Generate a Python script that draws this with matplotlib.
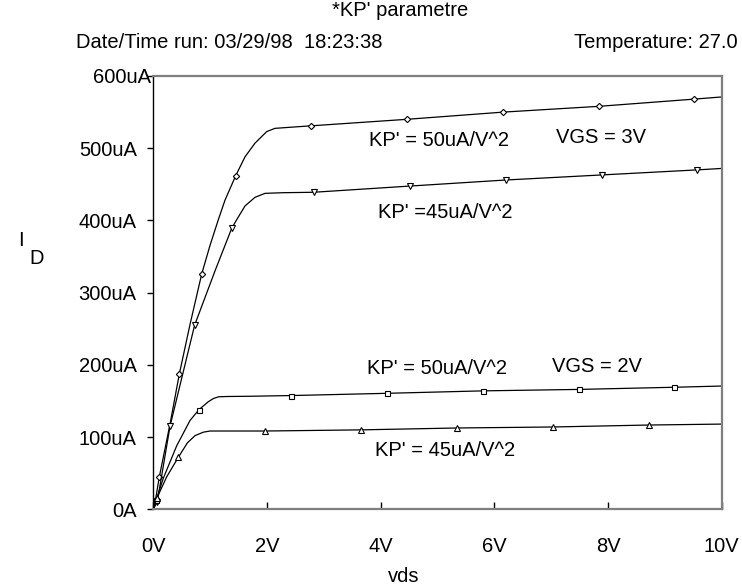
import numpy as np
import matplotlib
matplotlib.use("Agg")
import matplotlib.pyplot as plt
from matplotlib.transforms import ScaledTranslation

plt.rcParams['font.family'] = ['Liberation Sans', 'DejaVu Sans']

# Drain current (uA) versus drain-source voltage (V)
# VGS = 3V, KP' = 50uA/V^2
vds_a = [0, 0.03, 0.106, 0.294, 0.457, 0.646, 0.852, 1.0, 1.144, 1.261, 1.45,
         1.613, 1.789, 1.995, 2.14, 2.405, 2.774, 4.458, 6.157, 7.84, 9.518, 10]
id_a = [0, 9, 45, 118, 187, 256, 326, 366, 401, 428, 462,
        488, 507, 523, 527.5, 529, 531, 540, 550, 558, 568, 571]
mk_a = [0.106, 0.457, 0.852, 1.45, 2.774, 4.458, 6.157, 7.84, 9.518]

# VGS = 3V, KP' = 45uA/V^2
vds_b = [0, 0.07, 0.294, 0.727, 1.09, 1.379, 1.467, 1.613, 1.789, 1.965,
         2.287, 2.82, 4.516, 6.205, 7.89, 9.57, 10]
id_b = [0, 10.5, 115, 255, 331, 389, 401, 420, 432, 437.5,
        438.4, 439, 447.6, 456, 463, 470, 472]
mk_b = [0.07, 0.294, 0.727, 1.379, 2.82, 4.516, 6.205, 7.89, 9.57]

# VGS = 2V, KP' = 50uA/V^2
vds_c = [0, 0.03, 0.176, 0.412, 0.646, 0.804, 0.968, 1.06, 1.15, 1.3,
         1.671, 2.423, 4.106, 5.80, 7.484, 9.168, 10]
id_c = [0, 8, 43, 88, 123, 138, 149, 153.5, 155.8, 156.2,
        156.5, 157.5, 160.6, 164, 166, 169, 170.7]
mk_c = [0.05, 0.804, 2.423, 4.106, 5.80, 7.484, 9.168]

# VGS = 2V, KP' = 45uA/V^2
vds_d = [0, 0.06, 0.236, 0.44, 0.6, 0.734, 0.88, 0.998, 1.965, 2.611, 3.654,
         5.35, 7.04, 8.72, 10]
id_d = [0, 15, 45, 72, 92, 102, 106.8, 108.4, 108.4, 109, 110,
        112.6, 114, 116.7, 118]
mk_d = [0.06, 0.44, 1.965, 3.654, 5.35, 7.04, 8.72]

x_ticks = [0, 2, 4, 6, 8, 10]
x_labels = ["0V", "2V", "4V", "6V", "8V", "10V"]
y_ticks = [0, 100, 200, 300, 400, 500, 600]
y_labels = ["0A", "100uA", "200uA", "300uA", "400uA", "500uA", "600uA"]

W, H = 742, 585
fs = 14.5
fig = plt.figure(figsize=(W / 100, H / 100), dpi=100)
ax = fig.add_axes([153.3 / W, 1 - 509.3 / H, (721.7 - 153.3) / W, (509.3 - 76) / H])

curves = [
    (vds_a, id_a, mk_a, 'D', 3.2),
    (vds_b, id_b, mk_b, 'v', 4.0),
    (vds_c, id_c, mk_c, 's', 3.6),
    (vds_d, id_d, mk_d, '^', 4.0),
]
for xs, ys, mk, sym, ms in curves:
    ax.plot(xs, ys, color='black', lw=0.9, solid_joinstyle='round')
    ax.plot(mk, np.interp(mk, xs, ys), ls='none', marker=sym, ms=ms,
            mfc='white', mec='black', mew=0.8)

ax.set_xlim(0, 10)
ax.set_ylim(0, 600)
ax.set_xticks(x_ticks)
ax.set_xticklabels(x_labels)
ax.set_yticks(y_ticks)
ax.set_yticklabels(y_labels)
ax.tick_params(axis='x', direction='in', length=5, width=1, pad=20, labelsize=fs)
ax.tick_params(axis='y', direction='out', length=4, width=1, pad=8, labelsize=fs)

# the top label sits against the corner of the frame
top_lbl = ax.get_yticklabels()[-1]
top_lbl.set_transform(top_lbl.get_transform() + ScaledTranslation(14 / 100, 0, fig.dpi_scale_trans))

ax.spines['left'].set_color('black')
ax.spines['left'].set_linewidth(1.0)
for side in ('top', 'right', 'bottom'):
    ax.spines[side].set_color('#7f7f7f')
    ax.spines[side].set_linewidth(1.6)

fig.text(404 / W, 1 - 577 / H, "vds", ha='center', va='center', fontsize=fs)

fig.text(400 / W, 1 - 11 / H, "*KP' parametre", ha='center', va='center', fontsize=fs)
fig.text(76 / W, 1 - 42 / H, "Date/Time run: 03/29/98  18:23:38", ha='left', va='center', fontsize=fs)
fig.text(738 / W, 1 - 42 / H, "Temperature: 27.0", ha='right', va='center', fontsize=fs)
fig.text(21 / W, 1 - 241 / H, "I", ha='center', va='center', fontsize=fs)
fig.text(37 / W, 1 - 259 / H, "D", ha='center', va='center', fontsize=fs)

fig.text(369 / W, 1 - 140 / H, "KP' = 50uA/V^2", ha='left', va='center', fontsize=fs)
fig.text(556 / W, 1 - 137 / H, "VGS = 3V", ha='left', va='center', fontsize=fs)
fig.text(378 / W, 1 - 212 / H, "KP' =45uA/V^2", ha='left', va='center', fontsize=fs)
fig.text(367 / W, 1 - 368 / H, "KP' = 50uA/V^2", ha='left', va='center', fontsize=fs)
fig.text(552 / W, 1 - 366 / H, "VGS = 2V", ha='left', va='center', fontsize=fs)
fig.text(375 / W, 1 - 451 / H, "KP' = 45uA/V^2", ha='left', va='center', fontsize=fs)

fig.savefig("out.png", dpi=100)
